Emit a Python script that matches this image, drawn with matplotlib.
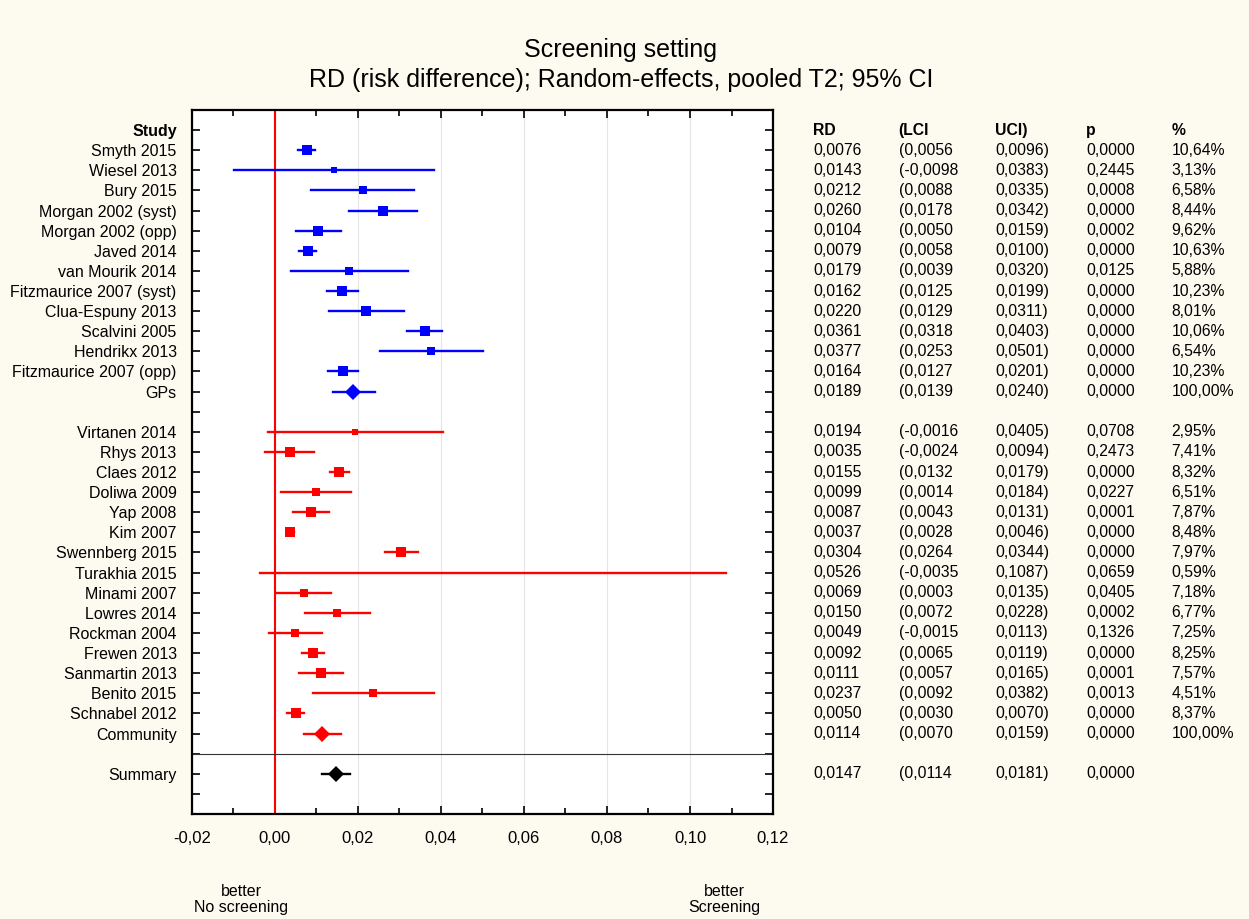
import matplotlib.pyplot as plt
import matplotlib.transforms as mtransforms
from matplotlib.ticker import FuncFormatter, MultipleLocator

plt.rcParams['font.family'] = ['Liberation Sans', 'DejaVu Sans']

# GP setting studies
gp_studies = ["Smyth 2015", "Wiesel 2013", "Bury 2015", "Morgan 2002 (syst)", "Morgan 2002 (opp)",
              "Javed 2014", "van Mourik 2014", "Fitzmaurice 2007 (syst)", "Clua-Espuny 2013",
              "Scalvini 2005", "Hendrikx 2013", "Fitzmaurice 2007 (opp)"]
gp_rd = [0.0076, 0.0143, 0.0212, 0.0260, 0.0104, 0.0079, 0.0179, 0.0162, 0.0220, 0.0361, 0.0377, 0.0164]
gp_lci = [0.0056, -0.0098, 0.0088, 0.0178, 0.0050, 0.0058, 0.0039, 0.0125, 0.0129, 0.0318, 0.0253, 0.0127]
gp_uci = [0.0096, 0.0383, 0.0335, 0.0342, 0.0159, 0.0100, 0.0320, 0.0199, 0.0311, 0.0403, 0.0501, 0.0201]
gp_p = [0.0000, 0.2445, 0.0008, 0.0000, 0.0002, 0.0000, 0.0125, 0.0000, 0.0000, 0.0000, 0.0000, 0.0000]
gp_w = [10.64, 3.13, 6.58, 8.44, 9.62, 10.63, 5.88, 10.23, 8.01, 10.06, 6.54, 10.23]
gp_pool = ["GPs", 0.0189, 0.0139, 0.0240, 0.0000, 100.00]

# community setting studies
cm_studies = ["Virtanen 2014", "Rhys 2013", "Claes 2012", "Doliwa 2009", "Yap 2008", "Kim 2007",
              "Swennberg 2015", "Turakhia 2015", "Minami 2007", "Lowres 2014", "Rockman 2004",
              "Frewen 2013", "Sanmartin 2013", "Benito 2015", "Schnabel 2012"]
cm_rd = [0.0194, 0.0035, 0.0155, 0.0099, 0.0087, 0.0037, 0.0304, 0.0526, 0.0069, 0.0150, 0.0049,
         0.0092, 0.0111, 0.0237, 0.0050]
cm_lci = [-0.0016, -0.0024, 0.0132, 0.0014, 0.0043, 0.0028, 0.0264, -0.0035, 0.0003, 0.0072, -0.0015,
          0.0065, 0.0057, 0.0092, 0.0030]
cm_uci = [0.0405, 0.0094, 0.0179, 0.0184, 0.0131, 0.0046, 0.0344, 0.1087, 0.0135, 0.0228, 0.0113,
          0.0119, 0.0165, 0.0382, 0.0070]
cm_p = [0.0708, 0.2473, 0.0000, 0.0227, 0.0001, 0.0000, 0.0000, 0.0659, 0.0405, 0.0002, 0.1326,
        0.0000, 0.0001, 0.0013, 0.0000]
cm_w = [2.95, 7.41, 8.32, 6.51, 7.87, 8.48, 7.97, 0.59, 7.18, 6.77, 7.25, 8.25, 7.57, 4.51, 8.37]
cm_pool = ["Community", 0.0114, 0.0070, 0.0159, 0.0000, 100.00]

summary = ["Summary", 0.0147, 0.0114, 0.0181, 0.0000]

bg = '#fdfaf0'
fig = plt.figure(figsize=(12.49, 9.19), dpi=100, facecolor=bg)
ax = fig.add_axes([0.1537, 0.1143, 0.4652, 0.7660])
ax.set_facecolor('white')

ax.set_xlim(-0.02, 0.12)
ax.set_ylim(35, 0)


def fmt(v):
    return f"{v:.4f}".replace('.', ',')


trans = mtransforms.blended_transform_factory(fig.transFigure, ax.transData)
cols = [0.651, 0.7195, 0.797, 0.8695, 0.938]
fs = 11.3


def table_row(y, rd, lci, uci, p, w=None):
    vals = [fmt(rd), "(" + fmt(lci), fmt(uci) + ")", fmt(p)]
    if w is not None:
        vals.append(f"{w:.2f}%".replace('.', ','))
    for x, s in zip(cols, vals):
        ax.text(x, y, s, transform=trans, ha='left', va='center', fontsize=fs, clip_on=False)


def draw_group(y0, rd, lci, uci, p, w, color):
    for i in range(len(rd)):
        y = y0 + i
        ax.plot([lci[i], uci[i]], [y, y], color=color, lw=1.7, zorder=3)
        ax.plot(rd[i], y, marker='s', color=color, ms=2.4 * w[i] ** 0.5, mew=0, zorder=4)
        table_row(y, rd[i], lci[i], uci[i], p[i], w[i])


def draw_pool(y, pool, color):
    _, rd, lci, uci, p, w = pool
    ax.plot([lci, uci], [y, y], color=color, lw=1.7, zorder=3)
    ax.plot(rd, y, marker='D', color=color, ms=8, mew=0, zorder=4)
    table_row(y, rd, lci, uci, p, w)


ax.axvline(0, color='#ff0000', lw=1.5, zorder=2)
ax.axhline(32, color='#333333', lw=0.8, zorder=2)

draw_group(2, gp_rd, gp_lci, gp_uci, gp_p, gp_w, '#0000ff')
draw_pool(14, gp_pool, '#0000ff')
draw_group(16, cm_rd, cm_lci, cm_uci, cm_p, cm_w, '#ff0000')
draw_pool(31, cm_pool, '#ff0000')

ax.plot([summary[2], summary[3]], [33, 33], color='black', lw=1.7, zorder=3)
ax.plot(summary[1], 33, marker='D', color='black', ms=8, mew=0, zorder=4)
table_row(33, summary[1], summary[2], summary[3], summary[4])

# header row
for x, s in zip(cols, ["RD", "(LCI", "UCI)", "p", "%"]):
    ax.text(x, 1, s, transform=trans, ha='left', va='center', fontsize=fs, fontweight='bold')

labels = ["Study"] + gp_studies + [gp_pool[0], ""] + cm_studies + [cm_pool[0], "", summary[0], ""]
ax.set_yticks(range(1, 35))
ax.set_yticklabels(labels, fontsize=11.5)
ax.get_yticklabels()[0].set_fontweight('bold')

ax.xaxis.set_major_locator(MultipleLocator(0.02))
ax.xaxis.set_minor_locator(MultipleLocator(0.01))
ax.xaxis.set_major_formatter(FuncFormatter(lambda v, pos: f"{v:.2f}".replace('.', ',').replace('-0,00', '0,00')))
ax.tick_params(axis='x', which='both', direction='in', top=True, bottom=True, labelsize=12, pad=12)
ax.tick_params(axis='x', which='major', length=6, width=1.2)
ax.tick_params(axis='x', which='minor', length=4, width=1.2)
ax.tick_params(axis='y', direction='in', left=True, right=True, length=6, width=1.2, pad=11)
ax.grid(axis='x', which='major', color='#e4e4e4', lw=0.8, zorder=0)
ax.set_axisbelow(True)
for sp in ax.spines.values():
    sp.set_linewidth(1.6)

fig.text(0.497, 0.946, "Screening setting", ha='center', va='center', fontsize=18)
fig.text(0.497, 0.913, "RD (risk difference); Random-effects, pooled T2; 95% CI", ha='center', va='center', fontsize=18)

fig.text(0.193, 0.021, "better\nNo screening", ha='center', va='center', fontsize=11.5, linespacing=1.1)
fig.text(0.58, 0.021, "better\nScreening", ha='center', va='center', fontsize=11.5, linespacing=1.1)

fig.savefig("out.png", dpi=100, facecolor=bg)
